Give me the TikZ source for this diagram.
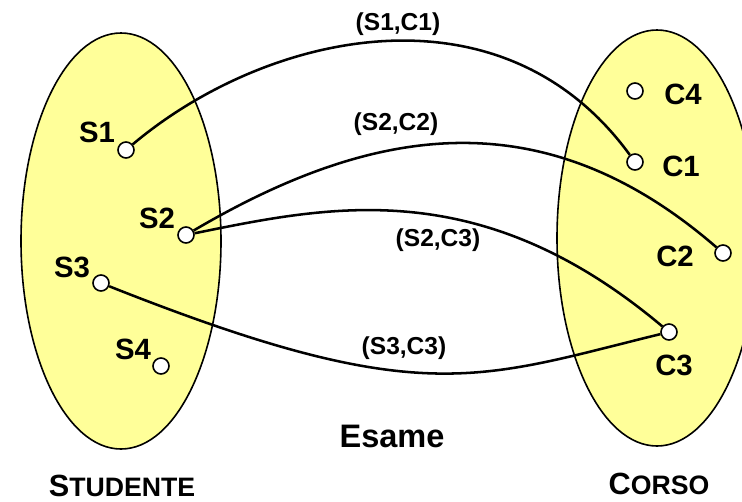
\documentclass[tikz,border=0pt]{standalone}
\usepackage{fontspec}
\setmainfont{Liberation Sans}
\usepackage{tikz}
\usetikzlibrary{positioning}
\definecolor{insieme}{RGB}{255,255,153}

\begin{document}
\begin{tikzpicture}[x=0.75pt,y=-0.75pt,
	punto/.style={circle, draw, fill=white, line width=1.2pt, minimum size=12pt, inner sep=0pt},
	nome/.style={inner sep=0pt, font=\fontsize{22}{22}\selectfont\bfseries},
	coppia/.style={inner sep=0pt, font=\fontsize{18.4}{18.4}\selectfont\bfseries},
	arco/.style={line width=1.9pt}]
				\useasboundingbox (0,0) rectangle (742,501);
				\clip (0,0) rectangle (742,501);
				
				% Insiemi Studente e Corso
				\draw[line width=1.2pt, fill=insieme] (121,241) ellipse [x radius=100, y radius=208];
				\draw[line width=1.2pt, fill=insieme] (657,238) ellipse [x radius=100, y radius=208];
				
				% Elementi di Studente
				\node[punto] (s1) at (126,150) {};
				\node[punto] (s2) at (186,235) {};
				\node[punto] (s3) at (101,283) {};
				\node[punto] (s4) at (161,366) {};
				\node[nome] (ns1) at (97,132) {S1};
				\node[nome] (ns2) at (157,218) {S2};
				\node[nome] (ns3) at (72,267) {S3};
				\node[nome] (ns4) at (133,349) {S4};
				
				% Elementi di Corso
				\node[punto] (c4) at (635,91) {};
				\node[punto] (c1) at (635,162) {};
				\node[punto] (c2) at (723,253) {};
				\node[punto] (c3) at (669,332) {};
				\node[nome] (nc4) at (683,94) {C4};
				\node[nome] (nc1) at (681,166) {C1};
				\node[nome] (nc2) at (675,256) {C2};
				\node[nome] (nc3) at (674,365) {C3};
				
				% Coppie della relazione Esame
				\draw[arco] (s1) .. controls (266,32) and (501,-22) .. (c1);
				\draw[arco] (s2) .. controls (373,125) and (543,97) .. (c2);
				\draw[arco] (s2) .. controls (329,206) and (480,173) .. (c3);
				\draw[arco] (s3) .. controls (421,410) and (477,379) .. (c3);
				\node[coppia] (e11) at (398,24) {(S1,C1)};
				\node[coppia] (e22) at (396,124) {(S2,C2)};
				\node[coppia] (e23) at (438,240) {(S2,C3)};
				\node[coppia] (e33) at (404,348) {(S3,C3)};
				
				% Nomi
				\node[anchor=base, inner sep=0pt, font=\fontsize{24.4}{24.4}\selectfont\bfseries] (esame) at (392,447) {Esame};
				\node[anchor=base, inner sep=0pt, font=\bfseries] (studente) at (122,496)
					{\fontsize{23}{23}\selectfont S\fontsize{20}{20}\selectfont TUDENTE};
				\node[anchor=base, inner sep=0pt, font=\bfseries] (corso) at (659,494)
					{\fontsize{23}{23}\selectfont C\fontsize{20}{20}\selectfont ORSO};
			\end{tikzpicture}
\end{document}
